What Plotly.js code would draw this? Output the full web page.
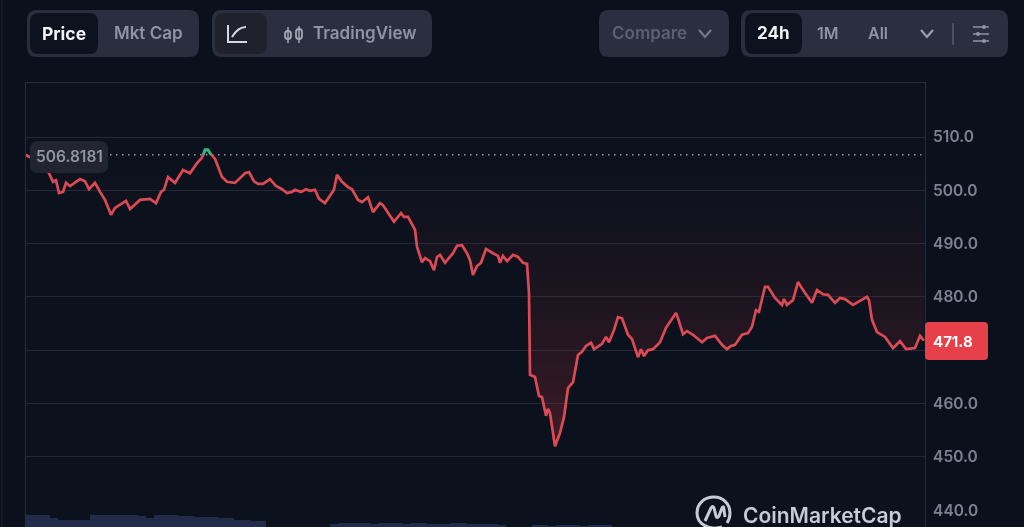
<!DOCTYPE html>
<html><head><meta charset="utf-8">
<script src="https://cdn.plot.ly/plotly-3.0.1.min.js"></script>
<style>html,body{margin:0;padding:0;background:#0b111c;overflow:hidden}#chart{width:1024px;height:527px;filter:blur(0.6px)}</style>
</head><body><div id="chart"></div>
<script>
const sampleIndex = [0,10,18,23,27,30,33,37,40,44,54,59,63,69,74,79,85,89,100,104,114,124,130,135,138,142,149,157,164,171,176,179,182,184,189,196,201,209,219,223,228,232,237,244,250,256,261,266,269,275,280,284,289,293,299,304,308,311,316,322,326,332,336,342,347,354,357,368,375,378,382,389,391,396,399,404,408,411,414,419,427,431,436,441,444,447,451,455,460,467,472,474,477,481,487,492,497,501,503,504,509,513,516,520,522,524,529,534,538,542,547,552,556,560,565,568,576,580,583,588,592,596,602,606,612,615,618,622,627,634,640,650,652,657,661,667,676,681,689,696,701,705,709,716,722,726,730,733,739,742,749,756,758,761,767,772,777,786,791,797,802,809,814,819,827,841,843,846,851,859,867,874,880,889,894,898];
const price = [506.6,505.7,504.6,503.2,501.6,501.9,499.5,499.7,501.4,500.8,502.1,501.7,500.2,501.4,499.7,498.2,495.4,496.7,498.0,496.5,498.2,498.4,497.6,499.7,500.1,502.5,501.4,503.8,503.2,505.1,506.1,507.6,507.6,507.0,505.9,502.5,501.6,501.4,503.2,503.4,501.7,501.2,501.2,502.1,500.8,500.2,499.5,499.7,500.1,499.7,500.2,499.9,500.1,498.4,497.6,499.1,500.1,502.9,501.6,500.6,500.2,498.2,497.8,498.7,495.9,497.6,497.2,494.1,495.7,495.0,495.0,492.6,489.4,486.5,487.3,486.7,485.0,487.5,487.9,486.4,488.2,489.6,489.7,488.2,486.9,484.1,485.8,486.4,489.0,488.2,487.7,486.4,487.7,486.7,487.9,487.5,486.4,486.2,480.7,465.4,465.0,461.4,461.2,457.7,459.0,458.2,452.0,454.5,457.5,462.9,464.0,469.1,469.7,470.8,471.4,470.2,471.2,472.5,471.5,473.8,476.2,476.0,472.9,472.1,468.7,470.2,468.9,470.0,470.2,471.5,474.2,477.0,476.0,473.0,473.6,472.9,471.5,472.3,472.7,471.0,470.2,470.8,471.0,472.9,473.2,474.4,477.5,477.2,481.9,481.9,479.8,478.5,479.6,478.5,479.4,482.8,481.3,478.9,481.3,480.5,480.4,478.9,479.8,479.6,478.5,480.0,479.4,475.7,473.4,472.5,470.4,471.7,470.2,470.4,472.7,471.8];
const peakIndex = [177.4,179,182,184,185];
const peakPrice = [506.65,507.6,507.6,507.0,506.65];
const baselineIndex = [0,898];
const baselinePrice = [506.65,506.65];
const volumeIndex = [4,12,20,28,36,44,52,60,68,76,84,92,100,108,116,124,132,140,148,156,164,172,180,188,196,204,212,220,228,236,308,316,324,332,340,348,356,364,372,380,388,396,404,412,420,428,436,444,452,460,468,476,510,518,526,534,542,550,558,566,574,582];
const volumeValues = [12,12,12,9,7,7,7,7,12,12,12,12,12,12,11,9,12,12,12,11,11,10,10,10,9,9,7,7,6,6,3,4,4,4,4,3,4,4,4,3,4,4,3,3,3,4,4,3,3,3,3,2,2,2,1,2,2,2,1,2,2,2];
const tickValues = [440,450,460,470,480,490,500,510];
const tickLabels = ['440.0','450.0','460.0','','480.0','490.0','500.0','510.0'];

const W=1024,H=527;
const pp = s => { let i=0; return s.replace(/-?\d+(\.\d+)?/g, n => { const v = (i++%2===0) ? (+n)/W : 1-(+n)/H; return v.toFixed(5); }); };
const rr = (x,y,w,h,r) => pp(`M ${x+r} ${y} L ${x+w-r} ${y} Q ${x+w} ${y} ${x+w} ${y+r} L ${x+w} ${y+h-r} Q ${x+w} ${y+h} ${x+w-r} ${y+h} L ${x+r} ${y+h} Q ${x} ${y+h} ${x} ${y+h-r} L ${x} ${y+r} Q ${x} ${y} ${x+r} ${y} Z`);
const fillShape = (path,color,line) => ({type:'path',xref:'paper',yref:'paper',path,fillcolor:color,line:line||{width:0},layer:'above'});
const strokeShape = (path,color,width) => ({type:'path',xref:'paper',yref:'paper',path:pp(path),line:{color,width},layer:'above'});
const txt = (text,x,y,color,size,weight,anchor) => ({text,xref:'paper',yref:'paper',x:x/W,y:1-y/H,showarrow:false,xanchor:anchor||'center',yanchor:'middle',font:{family:'Inter, sans-serif',color,size,weight:weight||500}});

const pill='#2a2e3e', active='#0c121e', dim='#8e94a5';
const shapes = [
  {type:'line',xref:'paper',yref:'paper',x0:2/W,x1:2/W,y0:0,y1:1,line:{color:'#1e2530',width:1},layer:'below'},
  fillShape(rr(27,10,172,47,10),pill),
  fillShape(rr(30,13,68,41,9),active),
  fillShape(rr(212,10,220,47,10),pill),
  fillShape(rr(215,13,52,41,9),'#1f222d'),
  fillShape(rr(599,10,130,47,10),pill),
  fillShape(rr(741,10,267,47,10),pill),
  fillShape(rr(745,13,57,41,9),active),
  strokeShape('M 228 25 L 228 42 L 247 42','#d5d8df',2),
  strokeShape('M 232 37 Q 238 27 246 27','#d5d8df',2),
  strokeShape('M 288 27 L 288 43','#a3a8b6',1.5),
  fillShape(rr(285,31,6,8,3),'rgba(0,0,0,0)',{color:'#a3a8b6',width:1.8}),
  strokeShape('M 299 26 L 299 43','#a3a8b6',1.5),
  fillShape(rr(296,29,6,10,3),'rgba(0,0,0,0)',{color:'#a3a8b6',width:1.8}),
  strokeShape('M 699 30 L 705 37 L 711 30','#777c8d',2),
  strokeShape('M 921 30 L 927 37 L 933 30','#9ea3b1',2),
  strokeShape('M 953 23 L 953 45','#565b6b',1.5),
  strokeShape('M 973 27 L 989 27','#8e94a5',1.5),
  strokeShape('M 973 34 L 989 34','#8e94a5',1.5),
  strokeShape('M 973 41 L 989 41','#8e94a5',1.5),
  fillShape(rr(982,25,4,4,2),'#8e94a5'),
  fillShape(rr(976,32,4,4,2),'#8e94a5'),
  fillShape(rr(982,39,4,4,2),'#8e94a5'),
  fillShape(rr(30,141,78,32,8),'#22252f'),
  fillShape(rr(925,322,63,38,4),'#e8404a'),
  strokeShape('M 722 527 C 709 531 697 524 697 513 C 697 504 704 497 714 497 C 723 497 730 504 730 513 C 730 517 729 520 727 523','#c6cbd6',3),
  strokeShape('M 705 521 L 711 508 Q 713 505 714 508 L 716 516 Q 717 519 719 516 L 722 508 Q 724 505 724 510 L 725 517','#c6cbd6',3)
];
const annotations = [
  txt('Price',64,33,'#f1f2f5',17.5,700),
  txt('Mkt Cap',148,33,dim,17,600),
  txt('TradingView',365,33,dim,17,600),
  txt('Compare',649,33,'#5c6172',17,600),
  txt('24h',773,33,'#f1f2f5',17,700),
  txt('1M',828,33,dim,16,600),
  txt('All',878,33,dim,16,600),
  txt('506.8181',69,157,'#8f95a3',15.5,600),
  txt('471.8',953,341,'#ffffff',15,700),
  txt('CoinMarketCap',741,515,'#c6cbd6',21,600,'left')
];

const traces = [
  {type:'bar',x:volumeIndex,y:volumeValues,xaxis:'x',yaxis:'y2',width:8,marker:{color:'#232b4b',line:{width:0}},hoverinfo:'skip'},
  {type:'scatter',mode:'lines',x:baselineIndex,y:baselinePrice,line:{color:'#8f95a3',width:1.5,dash:'1.5px,4.5px'},hoverinfo:'skip'},
  {type:'scatter',mode:'lines',x:sampleIndex,y:price,line:{color:'#dc4a55',width:2.7,shape:'linear'},fill:'tonexty',
   fillgradient:{type:'vertical',start:504,stop:452,colorscale:[[0,'rgba(234,57,67,0)'],[0.45,'rgba(234,57,67,0.07)'],[0.75,'rgba(234,57,67,0.14)'],[1,'rgba(234,57,67,0.24)']]},hoverinfo:'skip'},
  {type:'scatter',mode:'lines',x:peakIndex,y:peakPrice,line:{color:'#1fbf85',width:2.7},hoverinfo:'skip'}
];
const layout = {
  width:W,height:H,margin:{l:0,r:0,t:0,b:0},paper_bgcolor:'#0b111c',plot_bgcolor:'#0c121d',showlegend:false,hovermode:false,bargap:0,
  xaxis:{domain:[26/W,925/W],range:[0,899],showgrid:false,zeroline:false,showticklabels:false,ticks:'',side:'top',anchor:'y',showline:true,linecolor:'#272e3a',linewidth:1,mirror:false,fixedrange:true},
  yaxis:{domain:[0,1-83/H],range:[436.84,520.13],side:'right',anchor:'x',tickmode:'array',tickvals:tickValues,ticktext:tickLabels,ticks:'outside',ticklen:4,tickcolor:'rgba(0,0,0,0)',gridcolor:'#222935',gridwidth:1,zeroline:false,showline:true,mirror:true,linecolor:'#272e3a',linewidth:1,tickfont:{family:'Inter, sans-serif',size:15.5,color:'#7c8292',weight:600},fixedrange:true},
  yaxis2:{domain:[0,20/H],range:[0,20],anchor:'x',showgrid:false,zeroline:false,showticklabels:false,ticks:'',showline:false,fixedrange:true},
  shapes,annotations
};
Plotly.newPlot('chart',traces,layout,{displayModeBar:false,staticPlot:true});
</script></body></html>
